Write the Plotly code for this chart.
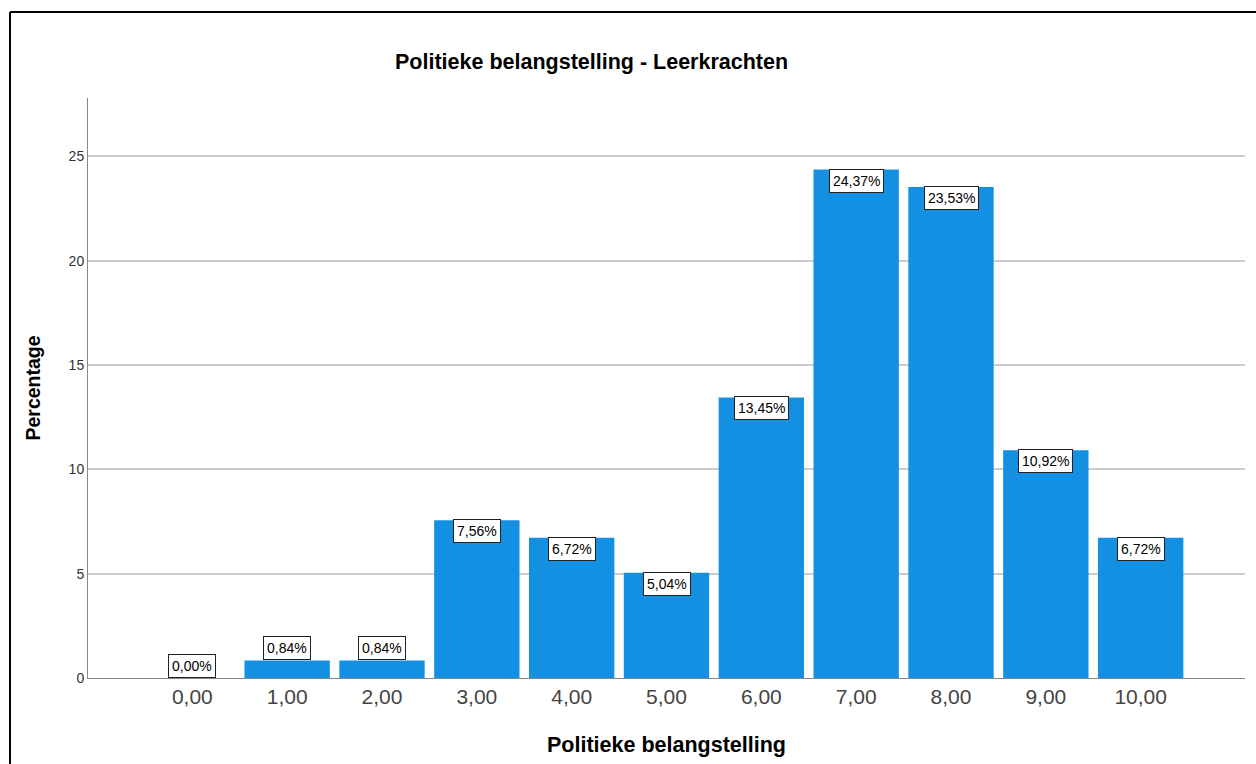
import plotly.graph_objects as go

categories = [0, 1, 2, 3, 4, 5, 6, 7, 8, 9, 10]
tick_labels = ["0,00", "1,00", "2,00", "3,00", "4,00", "5,00", "6,00", "7,00", "8,00", "9,00", "10,00"]
percentages = [0.00, 0.84, 0.84, 7.56, 6.72, 5.04, 13.45, 24.37, 23.53, 10.92, 6.72]
value_labels = ["0,00%", "0,84%", "0,84%", "7,56%", "6,72%", "5,04%", "13,45%", "24,37%", "23,53%", "10,92%", "6,72%"]

FONT = "Liberation Sans, Arial, sans-serif"
BAR_COLOR = "#1490e2"

fig = go.Figure()
fig.add_trace(go.Bar(
    x=categories, y=percentages, width=0.9,
    marker=dict(color=BAR_COLOR, line=dict(width=0)),
    hoverinfo="x+y", showlegend=False,
))

for c, v, lab in zip(categories, percentages, value_labels):
    inside = v > 3
    fig.add_annotation(
        x=c, y=v, xref="x", yref="y", text=lab, showarrow=False,
        yanchor="top" if inside else "bottom",
        yshift=1 if inside else 0,
        font=dict(family=FONT, size=14, color="black"),
        bgcolor="white", bordercolor="#222", borderwidth=1, borderpad=3,
    )

fig.add_annotation(
    x=0.4356, y=1.0, xref="paper", yref="paper", yshift=36, showarrow=False,
    text="<b>Politieke belangstelling - Leerkrachten</b>",
    font=dict(family=FONT, size=21.5, color="black"), xanchor="center", yanchor="middle",
)

# outer frame (left and top borders)
fig.add_shape(type="line", xref="paper", yref="paper", x0=-0.0674, x1=-0.0674, y0=1.1483, y1=-0.2,
              line=dict(color="black", width=2))
fig.add_shape(type="line", xref="paper", yref="paper", x0=-0.0674, x1=1.02, y0=1.1483, y1=1.1483,
              line=dict(color="black", width=2))

fig.update_layout(
    width=1256, height=764,
    margin=dict(l=88, r=11, t=98, b=86),
    paper_bgcolor="white", plot_bgcolor="white",
    font=dict(family=FONT, color="#333"),
    bargap=0.1,
)
fig.update_xaxes(
    range=[-1.1, 11.1], tickmode="array", tickvals=categories, ticktext=tick_labels,
    tickfont=dict(family=FONT, size=21, color="#444"),
    showline=True, linecolor="#888", linewidth=1, showgrid=False, ticks="",
    title=dict(text="<b>Politieke belangstelling</b>", font=dict(family=FONT, size=21.5, color="black"), standoff=29),
    zeroline=False,
)
fig.update_yaxes(
    range=[0, 27.8], tickvals=[0, 5, 10, 15, 20, 25],
    tickfont=dict(family=FONT, size=14, color="#333"),
    showline=True, linecolor="#888", linewidth=1,
    showgrid=True, gridcolor="#cccccc", gridwidth=1.5, ticks="",
    title=dict(text="<b>Percentage</b>", font=dict(family=FONT, size=19.5, color="black"), standoff=22),
    zeroline=False,
)

fig.write_html("out.html", config={"displayModeBar": False},
               post_script="document.body.style.margin='0';document.body.style.padding='0';")
